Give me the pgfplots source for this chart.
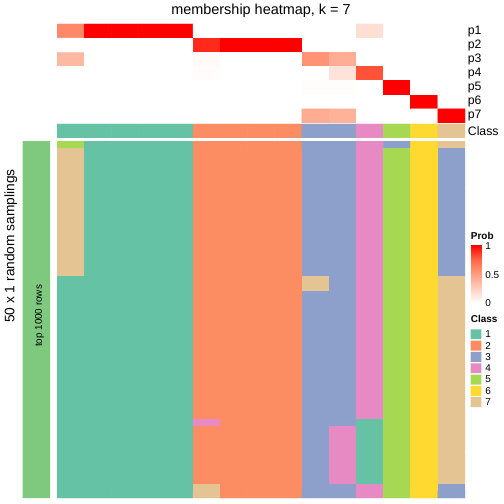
\documentclass[border=0pt]{standalone}
\usepackage{fontspec}
\setmainfont{Liberation Sans}
\usepackage{pgfplots}
\pgfplotsset{compat=1.18}
\definecolor{accgreen}{RGB}{127,201,127}
\definecolor{c1}{RGB}{102,194,165}
\definecolor{c2}{RGB}{252,141,98}
\definecolor{c3}{RGB}{141,160,203}
\definecolor{c4}{RGB}{231,138,195}
\definecolor{c5}{RGB}{166,216,84}
\definecolor{c6}{RGB}{255,217,47}
\definecolor{c7}{RGB}{229,196,148}
\pgfplotsset{
  myclassmap/.style={colormap={classes}{rgb255=(255,255,255) rgb255=(102,194,165) rgb255=(252,141,98) rgb255=(141,160,203) rgb255=(231,138,195) rgb255=(166,216,84) rgb255=(255,217,47) rgb255=(229,196,148)}, colormap access=direct},
  myprobmap/.style={colormap={prob}{rgb255=(255,255,255) rgb255=(255,207,191) rgb255=(255,158,129) rgb255=(255,103,70) rgb255=(255,0,0)}, point meta min=0, point meta max=1},
  myhm/.style={scale only axis, enlargelimits=false, axis line style={draw=none}, xtick=\empty, ytick=\empty, y dir=reverse, major tick length=0pt, tick style={draw=none}},
  myrlab/.style={yticklabel pos=right, yticklabel style={anchor=west, inner sep=0pt, xshift=2.7bp, font=\fontsize{12.3}{14}\selectfont}}
}
\begin{document}
\begin{tikzpicture}
\useasboundingbox (0,0) rectangle (504bp,504bp);
% title
\node[anchor=base, inner sep=0pt, font=\fontsize{14.5}{17}\selectfont] at (261bp,489bp) {membership heatmap, k = 7};
% left label
\node[rotate=90, inner sep=0pt, font=\fontsize{13.8}{16}\selectfont] at (10.8bp,258bp) {50 x 1 random samplings};

% left annotation bar
\begin{axis}[myhm, at={(22.7bp,363bp)}, anchor=north west, width=27.5bp, height=357bp,
  xmin=0, xmax=1, ymin=0, ymax=1]
\addplot[fill=accgreen, draw=none] coordinates {(0,0) (1,0) (1,1) (0,1) (0,0)};
\node[rotate=90, inner sep=0pt, font=\fontsize{9.9}{11}\selectfont] at (axis cs:0.61,0.49) {top 1000 rows};
\end{axis}

% probability colour bar
\begin{axis}[scale only axis, myprobmap, at={(470.7bp,259.2bp)}, anchor=north west, width=11bp, height=57.9bp,
  xmin=0, xmax=1, ymin=0, ymax=1.03, enlargelimits=false, axis line style={draw=none}, xtick=\empty,
  ytick={0,0.5,1}, yticklabels={0,0.5,1}, yticklabel pos=right, ytick pos=both, tick align=inside,
  major tick length=2.5bp, tick style={white, line width=0.6bp},
  yticklabel style={font=\fontsize{10}{12}\selectfont, inner sep=0pt, xshift=3.5bp},
  title={\bfseries Prob}, title style={at={(0,1)}, anchor=base west, inner sep=0pt, yshift=-0.4bp, font=\fontsize{10}{12}\selectfont}]
\addplot[patch, patch type=rectangle, shader=interp, point meta=explicit] coordinates {(0,0) [0] (1,0) [0] (1,1.03) [1] (0,1.03) [1]};
\end{axis}

% class legend
\begin{axis}[scale only axis, at={(470.7bp,175.4bp)}, anchor=north west, width=10.6bp, height=79.3bp,
  xmin=0, xmax=1, ymin=0.5, ymax=7.5, y dir=reverse, enlargelimits=false, axis line style={draw=none}, xtick=\empty,
  ytick={1,...,7}, yticklabels={1,2,3,4,5,6,7}, yticklabel pos=right, major tick length=0pt, tick style={draw=none},
  yticklabel style={font=\fontsize{10}{12}\selectfont, inner sep=0pt, xshift=3.8bp},
  title={\bfseries Class}, title style={at={(0,1)}, anchor=base west, inner sep=0pt, yshift=-0.1bp, font=\fontsize{10}{12}\selectfont}]
\addplot[fill=c1, draw=none] coordinates {(0,0.56) (1,0.56) (1,1.44) (0,1.44) (0,0.56)};
\addplot[fill=c2, draw=none] coordinates {(0,1.56) (1,1.56) (1,2.44) (0,2.44) (0,1.56)};
\addplot[fill=c3, draw=none] coordinates {(0,2.56) (1,2.56) (1,3.44) (0,3.44) (0,2.56)};
\addplot[fill=c4, draw=none] coordinates {(0,3.56) (1,3.56) (1,4.44) (0,4.44) (0,3.56)};
\addplot[fill=c5, draw=none] coordinates {(0,4.56) (1,4.56) (1,5.44) (0,5.44) (0,4.56)};
\addplot[fill=c6, draw=none] coordinates {(0,5.56) (1,5.56) (1,6.44) (0,6.44) (0,5.56)};
\addplot[fill=c7, draw=none] coordinates {(0,6.56) (1,6.56) (1,7.44) (0,7.44) (0,6.56)};
\end{axis}

% membership probabilities
\begin{axis}[myhm, myrlab, myprobmap, at={(57bp,480bp)}, anchor=north west, width=408bp, height=99bp,
  xmin=0.5, xmax=15.5, ymin=0.5, ymax=7.5, ytick={1,2,3,4,5,6,7}, yticklabels={p1,p2,p3,p4,p5,p6,p7}]
\addplot[matrix plot*, draw=none, mesh/cols=15, point meta=explicit] table[row sep=\\, header=false, x expr={\coordindex-15*floor((\coordindex+0.5)/15)+1}, y expr={floor((\coordindex+0.5)/15)+1}, meta index=0] {
0.6\\1\\1\\1\\1\\0\\0\\0\\0\\0\\0\\0.17\\0\\0\\0\\
0\\0\\0\\0\\0\\0.9\\1\\1\\1\\0\\0\\0\\0\\0\\0\\
0.37\\0\\0\\0\\0\\0.03\\0\\0\\0\\0.55\\0.42\\0\\0\\0\\0\\
0\\0\\0\\0\\0\\0.015\\0\\0\\0\\0\\0.15\\0.8\\0\\0\\0\\
0\\0\\0\\0\\0\\0\\0\\0\\0\\0.01\\0.01\\0\\1\\0\\0\\
0\\0\\0\\0\\0\\0\\0\\0\\0\\0\\0\\0\\0\\1\\0\\
0\\0\\0\\0\\0\\0\\0\\0\\0\\0.43\\0.4\\0\\0\\0\\1\\
};
\end{axis}

% class bar (one row, given twice so the matrix has two rows)
\begin{axis}[myhm, myrlab, myclassmap, at={(57bp,380bp)}, anchor=north west, width=408bp, height=14bp,
  xmin=0.5, xmax=15.5, ymin=0.5, ymax=2.5, ytick={1.5}, yticklabels={Class}]
\addplot[matrix plot*, draw=none, mesh/cols=15, point meta=explicit] table[row sep=\\, header=false, x expr={\coordindex-15*floor((\coordindex+0.5)/15)+1}, y expr={floor((\coordindex+0.5)/15)+1}, meta index=0] {
1\\1\\1\\1\\1\\2\\2\\2\\2\\3\\3\\4\\5\\6\\7\\
1\\1\\1\\1\\1\\2\\2\\2\\2\\3\\3\\4\\5\\6\\7\\
};
\end{axis}

% sampled classes
\begin{axis}[myhm, myclassmap, at={(57bp,363bp)}, anchor=north west, width=408bp, height=357bp,
  xmin=0.5, xmax=15.5, ymin=0.5, ymax=50.5]
\addplot[matrix plot*, draw=none, mesh/cols=15, point meta=explicit] table[row sep=\\, header=false, x expr={\coordindex-15*floor((\coordindex+0.5)/15)+1}, y expr={floor((\coordindex+0.5)/15)+1}, meta index=0] {
5\\1\\1\\1\\1\\2\\2\\2\\2\\3\\3\\4\\3\\6\\7\\
7\\1\\1\\1\\1\\2\\2\\2\\2\\3\\3\\4\\5\\6\\3\\
7\\1\\1\\1\\1\\2\\2\\2\\2\\3\\3\\4\\5\\6\\3\\
7\\1\\1\\1\\1\\2\\2\\2\\2\\3\\3\\4\\5\\6\\3\\
7\\1\\1\\1\\1\\2\\2\\2\\2\\3\\3\\4\\5\\6\\3\\
7\\1\\1\\1\\1\\2\\2\\2\\2\\3\\3\\4\\5\\6\\3\\
7\\1\\1\\1\\1\\2\\2\\2\\2\\3\\3\\4\\5\\6\\3\\
7\\1\\1\\1\\1\\2\\2\\2\\2\\3\\3\\4\\5\\6\\3\\
7\\1\\1\\1\\1\\2\\2\\2\\2\\3\\3\\4\\5\\6\\3\\
7\\1\\1\\1\\1\\2\\2\\2\\2\\3\\3\\4\\5\\6\\3\\
7\\1\\1\\1\\1\\2\\2\\2\\2\\3\\3\\4\\5\\6\\3\\
7\\1\\1\\1\\1\\2\\2\\2\\2\\3\\3\\4\\5\\6\\3\\
7\\1\\1\\1\\1\\2\\2\\2\\2\\3\\3\\4\\5\\6\\3\\
7\\1\\1\\1\\1\\2\\2\\2\\2\\3\\3\\4\\5\\6\\3\\
7\\1\\1\\1\\1\\2\\2\\2\\2\\3\\3\\4\\5\\6\\3\\
7\\1\\1\\1\\1\\2\\2\\2\\2\\3\\3\\4\\5\\6\\3\\
7\\1\\1\\1\\1\\2\\2\\2\\2\\3\\3\\4\\5\\6\\3\\
7\\1\\1\\1\\1\\2\\2\\2\\2\\3\\3\\4\\5\\6\\3\\
7\\1\\1\\1\\1\\2\\2\\2\\2\\3\\3\\4\\5\\6\\3\\
1\\1\\1\\1\\1\\2\\2\\2\\2\\7\\3\\4\\5\\6\\7\\
1\\1\\1\\1\\1\\2\\2\\2\\2\\7\\3\\4\\5\\6\\7\\
1\\1\\1\\1\\1\\2\\2\\2\\2\\3\\3\\4\\5\\6\\7\\
1\\1\\1\\1\\1\\2\\2\\2\\2\\3\\3\\4\\5\\6\\7\\
1\\1\\1\\1\\1\\2\\2\\2\\2\\3\\3\\4\\5\\6\\7\\
1\\1\\1\\1\\1\\2\\2\\2\\2\\3\\3\\4\\5\\6\\7\\
1\\1\\1\\1\\1\\2\\2\\2\\2\\3\\3\\4\\5\\6\\7\\
1\\1\\1\\1\\1\\2\\2\\2\\2\\3\\3\\4\\5\\6\\7\\
1\\1\\1\\1\\1\\2\\2\\2\\2\\3\\3\\4\\5\\6\\7\\
1\\1\\1\\1\\1\\2\\2\\2\\2\\3\\3\\4\\5\\6\\7\\
1\\1\\1\\1\\1\\2\\2\\2\\2\\3\\3\\4\\5\\6\\7\\
1\\1\\1\\1\\1\\2\\2\\2\\2\\3\\3\\4\\5\\6\\7\\
1\\1\\1\\1\\1\\2\\2\\2\\2\\3\\3\\4\\5\\6\\7\\
1\\1\\1\\1\\1\\2\\2\\2\\2\\3\\3\\4\\5\\6\\7\\
1\\1\\1\\1\\1\\2\\2\\2\\2\\3\\3\\4\\5\\6\\7\\
1\\1\\1\\1\\1\\2\\2\\2\\2\\3\\3\\4\\5\\6\\7\\
1\\1\\1\\1\\1\\2\\2\\2\\2\\3\\3\\4\\5\\6\\7\\
1\\1\\1\\1\\1\\2\\2\\2\\2\\3\\3\\4\\5\\6\\7\\
1\\1\\1\\1\\1\\2\\2\\2\\2\\3\\3\\4\\5\\6\\7\\
1\\1\\1\\1\\1\\2\\2\\2\\2\\3\\3\\4\\5\\6\\7\\
1\\1\\1\\1\\1\\4\\2\\2\\2\\3\\3\\1\\5\\6\\7\\
1\\1\\1\\1\\1\\2\\2\\2\\2\\3\\4\\1\\5\\6\\7\\
1\\1\\1\\1\\1\\2\\2\\2\\2\\3\\4\\1\\5\\6\\7\\
1\\1\\1\\1\\1\\2\\2\\2\\2\\3\\4\\1\\5\\6\\7\\
1\\1\\1\\1\\1\\2\\2\\2\\2\\3\\4\\1\\5\\6\\7\\
1\\1\\1\\1\\1\\2\\2\\2\\2\\3\\4\\1\\5\\6\\7\\
1\\1\\1\\1\\1\\2\\2\\2\\2\\3\\4\\1\\5\\6\\7\\
1\\1\\1\\1\\1\\2\\2\\2\\2\\3\\4\\1\\5\\6\\7\\
1\\1\\1\\1\\1\\2\\2\\2\\2\\3\\4\\1\\5\\6\\7\\
1\\1\\1\\1\\1\\7\\2\\2\\2\\3\\3\\4\\5\\6\\3\\
1\\1\\1\\1\\1\\7\\2\\2\\2\\3\\3\\4\\5\\6\\3\\
};
\end{axis}
\end{tikzpicture}
\end{document}
